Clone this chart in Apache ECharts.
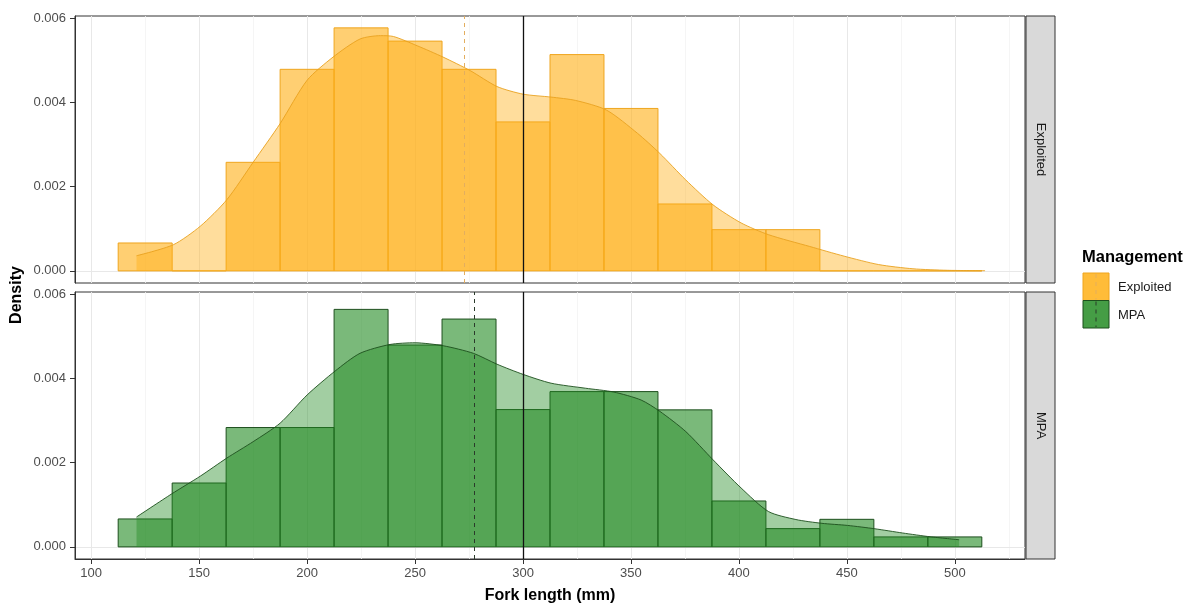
<!DOCTYPE html>
<html>
<head>
<meta charset="utf-8">
<script src="https://cdn.jsdelivr.net/npm/echarts@6.0.0/dist/echarts.min.js"></script>
<style>
html,body{margin:0;padding:0;background:#fff;}
#chart{width:1196px;height:606px;}
</style>
</head>
<body>
<div id="chart"></div>
<script>
// ---- data ----
const binMid = [125,150,175,200,225,250,275,300,325,350,375,400,425,450,475,500];
const binWidth = 25;
const histExploited = [0.000663,0,0.00258,0.00479,0.005775,0.00546,0.00479,0.00354,0.00514,0.00386,0.00159,0.00098,0.00098,0,0,0];
const histMPA = [0.000664,0.001518,0.002836,0.002836,0.005644,0.004797,0.005414,0.003263,0.00369,0.00369,0.003256,0.001091,0.000434,0.000655,0.000237,0.000237];

const densXExploited = [121,138,150.5,162.8,175,187.5,200,212,224.5,234,240,251,263,275.5,288,300,313,324.4,338.7,353,363.4,375.4,388,401,413.7,432.8,448.7,464.7,480.6,496.5,514];
const densYExploited = [0.00036,0.00062,0.00106,0.00169,0.00258,0.0035,0.00453,0.00508,0.00551,0.00559,0.00557,0.00535,0.00508,0.00476,0.00438,0.0042,0.00413,0.00405,0.00382,0.00327,0.00279,0.00216,0.00157,0.00114,0.00086,0.00058,0.00035,0.00015,0.00005,0.000014,0.000005];

const densXMPA = [121,137.3,150.5,162.8,175,187.5,200,213,224.5,238.4,250,263,277,288,300,313,329,342,354.7,363.4,375.4,388,401,413.7,426.4,438.4,450.3,463,475.8,488.6,502];
const densYMPA = [0.00071,0.00126,0.00168,0.00211,0.0025,0.00294,0.00361,0.00418,0.0046,0.00481,0.00485,0.00478,0.0046,0.00434,0.0041,0.00389,0.00377,0.00368,0.00349,0.00322,0.00274,0.00207,0.0014,0.00084,0.00065,0.00056,0.00051,0.00043,0.00033,0.00024,0.00017];

const meanExploited = 273;
const meanMPA = 277.5;
const refLine = 300;

const xTicks = [100,150,200,250,300,350,400,450,500];
const xMinor = [125,175,225,275,325,375,425,475,525];
const yTicks = [0,0.002,0.004,0.006];
const yMinor = [0.001,0.003,0.005];
const panels = ['Exploited','MPA'];

// ---- styles ----
const C = {
  Exploited: {fill:'rgba(255,175,20,0.6)', stroke:'#EFA51E', line:'#E9A21F', mean:'#E3AE5F'},
  MPA: {fill:'rgba(34,139,34,0.6)', stroke:'#1d4f1d', line:'#1d4f1d', mean:'#2b3a2b'}
};
const FONT = 'Liberation Sans, Arial, sans-serif';
const X_MIN = 92.5, X_MAX = 532.5, Y_MIN = -0.000288, Y_MAX = 0.006057;
const G = [{top:16, height:267}, {top:292, height:267}];

const toPairs = (xs, ys) => xs.map((x,i)=>[x, ys[i]]);

function gridSeries(i){
  const d = [];
  xMinor.forEach(v=>d.push({xAxis:v, lineStyle:{color:'#f2f2f2', width:0.8, type:'solid'}}));
  yMinor.forEach(v=>d.push({yAxis:v, lineStyle:{color:'#f2f2f2', width:0.8, type:'solid'}}));
  xTicks.forEach(v=>d.push({xAxis:v, lineStyle:{color:'#e8e8e8', width:1, type:'solid'}}));
  yTicks.forEach(v=>d.push({yAxis:v, lineStyle:{color:'#e8e8e8', width:1, type:'solid'}}));
  return {
    type:'line', xAxisIndex:i, yAxisIndex:i, z:0, silent:true,
    data:[[X_MIN, 0]], symbol:'none', lineStyle:{opacity:0},
    markLine:{z:0, silent:true, symbol:['none','none'], label:{show:false}, animation:false, data:d}
  };
}

function histSeries(i, name, vals){
  const c = C[name];
  return {
    type:'custom', xAxisIndex:i, yAxisIndex:i, z:2, silent:true,
    data: binMid.map((m,k)=>[m, vals[k]]),
    renderItem:(params, api)=>{
      const x = api.value(0), y = api.value(1);
      const p1 = api.coord([x - binWidth/2, y]);
      const p2 = api.coord([x + binWidth/2, 0]);
      return {type:'rect', shape:{x:p1[0], y:p1[1], width:p2[0]-p1[0], height:p2[1]-p1[1]},
              style:{fill:c.fill, stroke:c.stroke, lineWidth:1}};
    }
  };
}

function densSeries(i, name, xs, ys){
  const c = C[name];
  return {
    type:'line', xAxisIndex:i, yAxisIndex:i, z:3, silent:true,
    data: toPairs(xs, ys), symbol:'none', smooth:0.25,
    lineStyle:{color:c.line, width:0.9},
    areaStyle:{color:c.fill, origin:0}
  };
}

function vlineSeries(i, name, mean){
  return {
    type:'line', xAxisIndex:i, yAxisIndex:i, z:4, silent:true,
    data:[[X_MIN, 0]], symbol:'none', lineStyle:{opacity:0},
    markLine:{z:10, silent:true, symbol:['none','none'], label:{show:false}, animation:false,
      data:[
        {xAxis:mean, lineStyle:{color:C[name].mean, width:1, type:[4,4]}},
        {xAxis:refLine, lineStyle:{color:'#111', width:1.3, type:'solid'}}
      ]}
  };
}

const xAxes = G.map((g,i)=>({
  gridIndex:i, type:'value', min:X_MIN, max:X_MAX,
  axisLine:{show:i===1, onZero:false, lineStyle:{color:'#333'}},
  axisTick:{show:i===1, length:5, lineStyle:{color:'#333'}, customValues:xTicks},
  axisLabel:{show:i===1, customValues:xTicks, color:'#4d4d4d', fontSize:13, fontFamily:FONT, margin:8},
  splitLine:{show:false},
  name: i===1 ? 'Fork length (mm)' : '', nameLocation:'middle', nameGap:29,
  nameTextStyle:{color:'#000', fontWeight:'bold', fontSize:16, fontFamily:FONT}
}));
const yAxes = G.map((g,i)=>({
  gridIndex:i, type:'value', min:Y_MIN, max:Y_MAX,
  axisLine:{show:true, onZero:false, lineStyle:{color:'#333'}},
  axisTick:{show:true, length:5, lineStyle:{color:'#333'}, customValues:yTicks},
  axisLabel:{customValues:yTicks, color:'#4d4d4d', fontSize:13, fontFamily:FONT, margin:9,
    formatter:v=>v.toFixed(3)},
  splitLine:{show:false}
}));

const graphics = [];
// strips
G.forEach((g,i)=>{
  graphics.push({type:'rect', shape:{x:1026, y:g.top, width:29, height:g.height},
    style:{fill:'#d9d9d9', stroke:'#333', lineWidth:1}, z:10});
  graphics.push({type:'text', x:1040.5, y:g.top + g.height/2, rotation:-Math.PI/2,
    style:{text:panels[i], fill:'#1a1a1a', font:'13px '+FONT, textAlign:'center', textVerticalAlign:'middle'}, z:11});
});
// y title
graphics.push({type:'text', x:17, y:295, rotation:Math.PI/2,
  style:{text:'Density', fill:'#000', font:'bold 16px '+FONT, textAlign:'center', textVerticalAlign:'middle'}});
// legend
graphics.push({type:'text', x:1082, y:257,
  style:{text:'Management', fill:'#000', font:'bold 16.5px '+FONT, textAlign:'left', textVerticalAlign:'middle'}});
panels.forEach((p,k)=>{
  const y0 = 273 + k*27.5;
  graphics.push({type:'rect', shape:{x:1083, y:y0, width:26, height:27.5}, style:{fill:C[p].fill}});
  graphics.push({type:'rect', shape:{x:1083, y:y0, width:26, height:27.5}, style:{fill:C[p].fill, stroke:C[p].stroke, lineWidth:1}});
  graphics.push({type:'line', shape:{x1:1096, y1:y0+1, x2:1096, y2:y0+26.5}, style:{stroke:C[p].mean, lineWidth:1, lineDash:[4,4]}});
  graphics.push({type:'text', x:1118, y:y0+14.5,
    style:{text:p, fill:'#1a1a1a', font:'13px '+FONT, textAlign:'left', textVerticalAlign:'middle'}});
});

const option = {
  animation:false,
  backgroundColor:'#fff',
  grid: G.map(g=>({left:75, width:950, top:g.top, height:g.height, show:true,
    borderColor:'#333', borderWidth:1, backgroundColor:'#fff'})),
  xAxis: xAxes,
  yAxis: yAxes,
  series: [
    gridSeries(0), gridSeries(1),
    histSeries(0,'Exploited',histExploited), histSeries(1,'MPA',histMPA),
    densSeries(0,'Exploited',densXExploited,densYExploited), densSeries(1,'MPA',densXMPA,densYMPA),
    vlineSeries(0,'Exploited',meanExploited), vlineSeries(1,'MPA',meanMPA)
  ],
  graphic: graphics
};
const chart = echarts.init(document.getElementById('chart'), null, {renderer:'canvas'});
chart.setOption(option);
</script>
</body>
</html>
